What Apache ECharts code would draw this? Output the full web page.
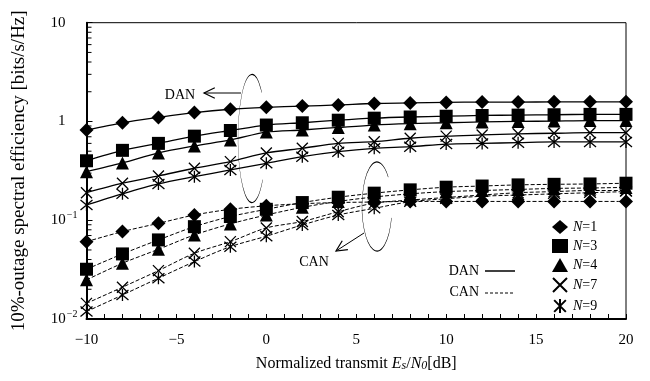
<!DOCTYPE html>
<html><head><meta charset="utf-8">
<script src="https://cdn.jsdelivr.net/npm/echarts@6/dist/echarts.min.js"></script>
<style>html,body{margin:0;padding:0;background:#fff}#c{width:650px;height:381px}</style>
</head><body><div id="c"></div>
<script>
// ---- data ----
const snr = [-10,-8,-6,-4,-2,0,2,4,6,8,10,12,14,16,18,20];
const nLabels = ['N=1','N=3','N=4','N=7','N=9'];
// DAN (solid)
const danN1 = [0.82,0.97,1.10,1.23,1.33,1.39,1.43,1.47,1.52,1.54,1.56,1.57,1.57,1.58,1.58,1.58];
const danN3 = [0.40,0.51,0.60,0.71,0.81,0.92,0.97,1.03,1.08,1.11,1.13,1.15,1.16,1.17,1.18,1.18];
const danN4 = [0.31,0.38,0.48,0.565,0.65,0.78,0.82,0.87,0.92,0.95,0.97,0.99,1.00,1.01,1.02,1.02];
const danN7 = [0.19,0.237,0.281,0.336,0.392,0.48,0.535,0.60,0.624,0.676,0.71,0.73,0.75,0.76,0.77,0.77];
const danN9 = [0.143,0.185,0.233,0.276,0.323,0.377,0.44,0.495,0.535,0.556,0.59,0.60,0.61,0.62,0.62,0.62];
// CAN (dashed)
const canN1 = [0.0607,0.0767,0.093,0.113,0.129,0.140,0.147,0.151,0.153,0.155,0.155,0.155,0.155,0.155,0.155,0.155];
const canN3 = [0.0319,0.0456,0.0632,0.0861,0.109,0.129,0.151,0.171,0.188,0.203,0.216,0.222,0.228,0.231,0.233,0.237];
const canN4 = [0.0249,0.0367,0.0508,0.071,0.0918,0.113,0.135,0.155,0.172,0.185,0.195,0.200,0.205,0.210,0.212,0.215];
const canN7 = [0.0144,0.021,0.0309,0.0463,0.0607,0.0836,0.097,0.122,0.149,0.160,0.170,0.180,0.190,0.195,0.200,0.200];
const canN9 = [0.0119,0.0175,0.0259,0.0381,0.054,0.0689,0.0896,0.113,0.132,0.154,0.165,0.175,0.180,0.185,0.190,0.195];
const xTickLabels = ['−10','−5','0','5','10','15','20'];
const yTickLabels = {'10':'{n|10}','1':'{n|1}','0.1':'{b|10}{sup|−1}','0.01':'{b|10}{sup|−2}'};
const yMinorTicks = [0.02,0.03,0.04,0.05,0.06,0.07,0.08,0.09,0.2,0.3,0.4,0.5,0.6,0.7,0.8,0.9,2,3,4,5,6,7,8,9];

const danSets = [danN1,danN3,danN4,danN7,danN9];
const canSets = [canN1,canN3,canN4,canN7,canN9];
const SYM = ['diamond','rect','triangle','path://M0,0L10,10M10,0L0,10','path://M0,1L10,11M10,1L0,11M5,0L5,12'];
const SYMSIZE = [14,13,13,11,12];
const FONT = 'Liberation Serif';

function mk(vals, i, dashed) {
  return {
    name: dashed ? nLabels[i] + ' CAN' : nLabels[i],
    type: 'line',
    data: snr.map((x, k) => [x, vals[k]]),
    smooth: 0.3,
    symbol: SYM[i],
    symbolSize: SYMSIZE[i],
    showAllSymbol: true,
    lineStyle: {color: '#000', width: dashed ? 1 : 1.3, type: dashed ? [4, 2] : 'solid'},
    itemStyle: {color: '#000', borderColor: '#000', borderWidth: i >= 3 ? 1.3 : 0},
    emphasis: {disabled: true},
    z: 3
  };
}
const series = [];
danSets.forEach((v, i) => series.push(mk(v, i, false)));
canSets.forEach((v, i) => series.push(mk(v, i, true)));
// minor ticks on the log axis, placed through the axis scale
series.push({
  type: 'custom', name: 'yminor', silent: true, z: 5,
  data: yMinorTicks.map(v => [-10, v]),
  renderItem: (params, api) => {
    const p = api.coord([api.value(0), api.value(1)]);
    return {type: 'line', shape: {x1: p[0], y1: p[1], x2: p[0] + 5, y2: p[1]}, style: {stroke: '#000', lineWidth: 1}};
  }
});

function arrow(x1, y1, x2, y2) {
  const a = Math.atan2(y2 - y1, x2 - x1), L = 12, w = 0.45;
  return [
    {type: 'line', shape: {x1, y1, x2, y2}, style: {stroke: '#000', lineWidth: 1}},
    {type: 'polyline', shape: {points: [[x2 - L*Math.cos(a - w), y2 - L*Math.sin(a - w)], [x2, y2], [x2 - L*Math.cos(a + w), y2 - L*Math.sin(a + w)]]}, style: {stroke: '#000', lineWidth: 1.2, fill: null}}
  ];
}

const chart = echarts.init(document.getElementById('c'), null, {renderer: 'canvas'});
chart.setOption({
  animation: false,
  backgroundColor: '#fff',
  textStyle: {fontFamily: FONT, color: '#000'},
  grid: {left: 86.5, right: 24, top: 22.7, bottom: 62, show: true, borderColor: '#000', borderWidth: 1, backgroundColor: 'transparent'},
  xAxis: {
    type: 'value', min: -10, max: 20, interval: 5,
    axisLine: {show: true, onZero: false, lineStyle: {color: '#000', width: 2}},
    axisTick: {show: true, inside: true, length: 5, lineStyle: {color: '#000', width: 1}},
    minorTick: {show: true, splitNumber: 5, length: 5, lineStyle: {color: '#000', width: 1}},
    splitLine: {show: false},
    axisLabel: {fontFamily: FONT, fontSize: 15, color: '#000', margin: 14,
      formatter: v => xTickLabels[Math.round((v + 10) / 5)]},
    name: '{a|Normalized transmit }{i|E}{s|s}{a|/}{i|N}{s|0}{a|[dB]}',
    nameLocation: 'middle', nameGap: 37,
    nameTextStyle: {fontFamily: FONT, fontSize: 16, color: '#000', rich: {
      a: {fontFamily: FONT, fontSize: 16, color: '#000'},
      i: {fontFamily: FONT, fontSize: 16, fontStyle: 'italic', color: '#000'},
      s: {fontFamily: FONT, fontSize: 12, fontStyle: 'italic', color: '#000', padding: [3, 0, 0, 0]}
    }}
  },
  yAxis: {
    type: 'log', logBase: 10, min: 0.01, max: 10,
    axisLine: {show: true, onZero: false, lineStyle: {color: '#000', width: 2}},
    axisTick: {show: true, inside: true, length: 6, lineStyle: {color: '#000', width: 1}},
    minorTick: {show: false},
    splitLine: {show: false},
    axisLabel: {fontFamily: FONT, fontSize: 15, color: '#000', margin: 9,
      formatter: v => yTickLabels[String(+v.toPrecision(3))] || '',
      rich: {
        n: {fontFamily: FONT, fontSize: 15, color: '#000', padding: [0, 12, 0, 0]},
        b: {fontFamily: FONT, fontSize: 15, color: '#000'},
        sup: {fontFamily: FONT, fontSize: 10, color: '#000', padding: [0, 0, 9, 1]}
      }},
    name: '10%-outage spectral efficiency [bits/s/Hz]',
    nameLocation: 'middle', nameGap: 58,
    nameTextStyle: {fontFamily: FONT, fontSize: 19, color: '#000'}
  },
  legend: {
    data: nLabels.map((n, i) => ({name: n, icon: SYM[i]})),
    orient: 'vertical', left: 547, top: 215, itemWidth: 16, itemHeight: 14, itemGap: 5,
    selectedMode: false,
    itemStyle: {color: '#000', borderColor: '#000'},
    textStyle: {fontFamily: FONT, fontSize: 14, color: '#000', rich: {
      i: {fontFamily: FONT, fontSize: 14, fontStyle: 'italic', color: '#000'},
      t: {fontFamily: FONT, fontSize: 14, color: '#000'}
    }},
    formatter: n => '{i|N}{t|' + n.slice(1) + '}'
  },
  series: series,
  graphic: [
    {type: 'arc', x: 252, y: 138.5, scaleX: 14 / 64, shape: {cx: 0, cy: 0, r: 64, startAngle: 0.70, endAngle: 5.48, clockwise: true}, style: {stroke: '#000', fill: null, lineWidth: 1.2, strokeNoScale: true}, z: 10},
    {type: 'arc', x: 377, y: 206.5, scaleX: 15 / 44.5, shape: {cx: 0, cy: 0, r: 44.5, startAngle: 0.26, endAngle: 5.56, clockwise: true}, style: {stroke: '#000', fill: null, lineWidth: 1.2, strokeNoScale: true}, z: 10},
    ...arrow(241, 93, 204, 93),
    ...arrow(364, 233, 336, 251),
    {type: 'text', x: 180, y: 95, style: {text: 'DAN', font: '14px "Liberation Serif"', fill: '#000', align: 'center', verticalAlign: 'middle'}},
    {type: 'text', x: 314, y: 262, style: {text: 'CAN', font: '14px "Liberation Serif"', fill: '#000', align: 'center', verticalAlign: 'middle'}},
    {type: 'text', x: 479, y: 271, style: {text: 'DAN', font: '14px "Liberation Serif"', fill: '#000', align: 'right', verticalAlign: 'middle'}},
    {type: 'text', x: 479, y: 292, style: {text: 'CAN', font: '14px "Liberation Serif"', fill: '#000', align: 'right', verticalAlign: 'middle'}},
    {type: 'line', shape: {x1: 485, y1: 271, x2: 515, y2: 271}, style: {stroke: '#000', lineWidth: 1.5}},
    {type: 'line', shape: {x1: 485, y1: 293, x2: 515, y2: 293}, style: {stroke: '#000', lineWidth: 1, lineDash: [3, 2]}}
  ]
});
</script></body></html>
